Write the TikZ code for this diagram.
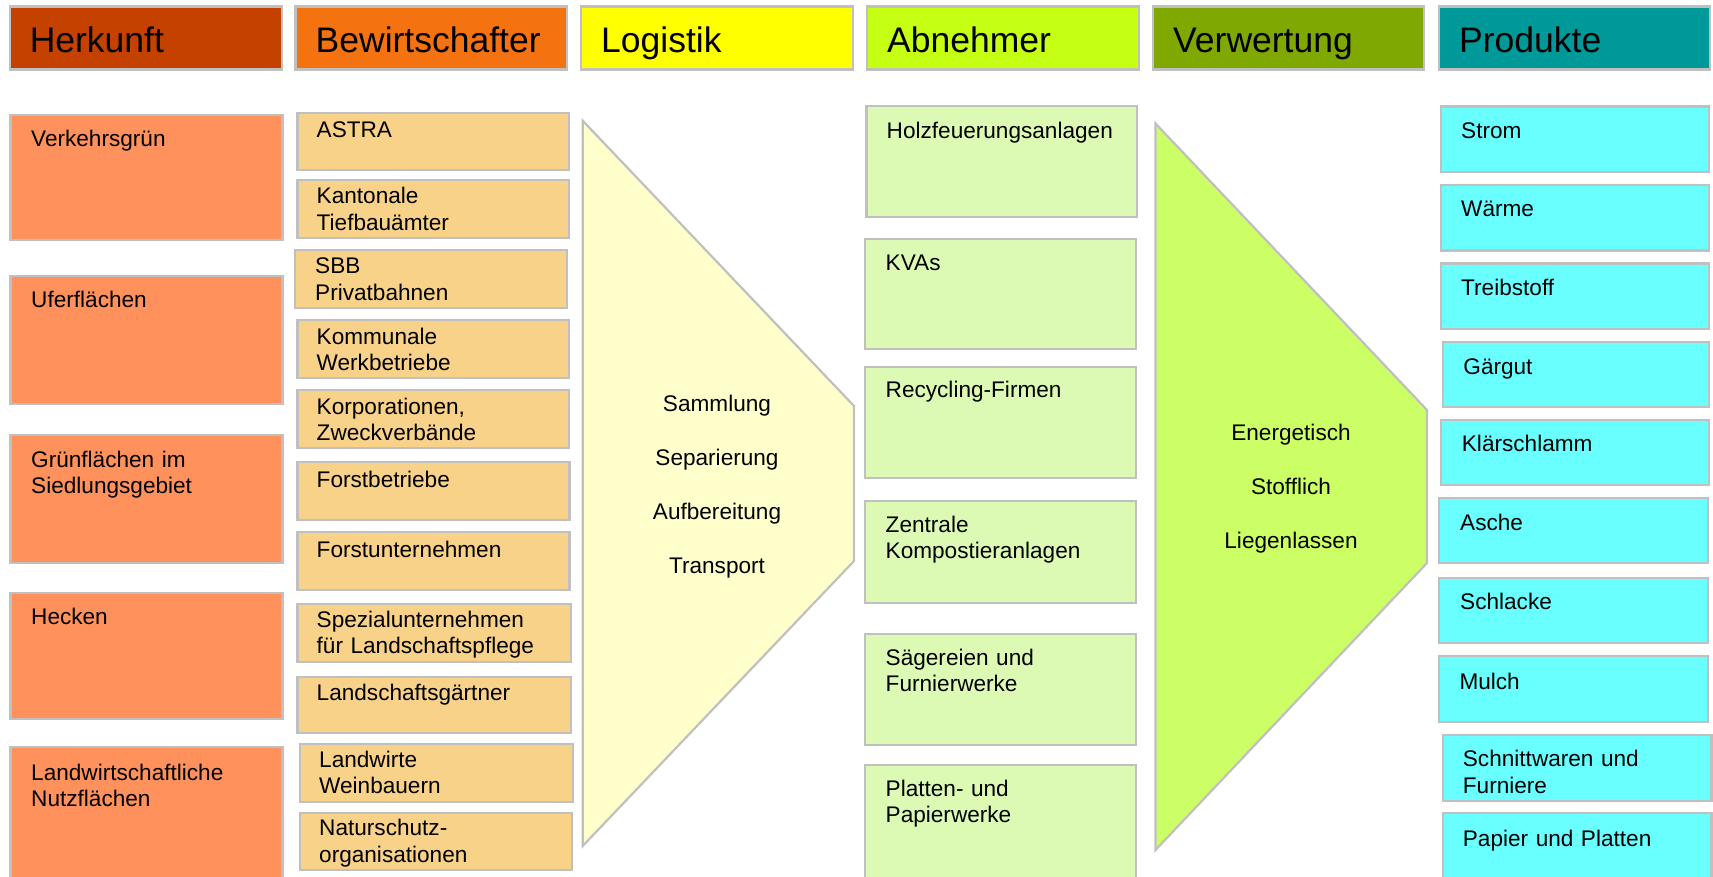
\documentclass[tikz,border=0pt]{standalone}
\usepackage{fontspec}
\setmainfont{Liberation Sans}
\definecolor{bord}{RGB}{192,192,192}
\definecolor{hdrA}{RGB}{197,65,0}
\definecolor{hdrB}{RGB}{245,114,16}
\definecolor{hdrC}{RGB}{255,255,0}
\definecolor{hdrD}{RGB}{197,255,20}
\definecolor{hdrE}{RGB}{127,168,0}
\definecolor{hdrF}{RGB}{0,153,153}
\definecolor{fillA}{RGB}{255,146,92}
\definecolor{fillB}{RGB}{249,210,138}
\definecolor{fillC}{RGB}{255,255,204}
\definecolor{fillD}{RGB}{221,250,180}
\definecolor{fillE}{RGB}{204,255,102}
\definecolor{fillF}{RGB}{106,255,255}
\newcommand\mkbox[6]{\node[bx,fill=#6,minimum width={#4-#2},minimum height={#5-#3}] (#1) at (#2,#3) {};}
\newcommand\mktxt[5]{\node[#2] (#1t) at ([xshift=#3pt,yshift=-#4pt]#1.north west) {#5};}
\begin{document}
\begin{tikzpicture}[x=1pt,y=-1pt,
  bx/.style={draw=bord,line width=2.2pt,anchor=north west,inner sep=0pt,outer sep=0pt,shape=rectangle},
  htxt/.style={anchor=base west,inner sep=0pt,font=\fontsize{35.5}{40}\selectfont},
  btxt/.style={anchor=base west,inner sep=0pt,align=left,text width=262pt,font=\fontsize{22.6}{26.5}\selectfont},
  ctxt/.style={anchor=base,inner sep=0pt,align=center,text width=250pt,font=\fontsize{22.6}{54}\selectfont},
  trap/.style={draw=bord,line width=2.2pt,line join=miter}]
\useasboundingbox (0,0) rectangle (1713,877);
\fill[white] (0,0) rectangle (1713,877);
% headers
\mkbox{h1}{9.6}{6.5}{282}{69.5}{hdrA}
\mkbox{h2}{295.5}{6.5}{567}{69.5}{hdrB}
\mkbox{h3}{581}{6.5}{853}{69.5}{hdrC}
\mkbox{h4}{867}{6.5}{1139}{69.5}{hdrD}
\mkbox{h5}{1153}{6.5}{1424}{69.5}{hdrE}
\mkbox{h6}{1439}{6.5}{1710}{69.5}{hdrF}
\mktxt{h1}{htxt}{20}{46}{Herkunft}
\mktxt{h2}{htxt}{20}{46}{Bewirtschafter}
\mktxt{h3}{htxt}{20}{46}{Logistik}
\mktxt{h4}{htxt}{20}{46}{Abnehmer}
\mktxt{h5}{htxt}{20}{46}{Verwertung}
\mktxt{h6}{htxt}{20}{46}{Produkte}
% Herkunft
\mkbox{a1}{10.5}{115}{282.5}{240}{fillA}
\mkbox{a2}{10.5}{276}{282.5}{404}{fillA}
\mkbox{a3}{10.5}{435}{282.5}{563}{fillA}
\mkbox{a4}{10.5}{593}{282.5}{719}{fillA}
\mkbox{a5}{10.5}{747}{282.5}{884}{fillA}
\mktxt{a1}{btxt}{20.5}{32}{Verkehrsgrün}
\mktxt{a2}{btxt}{20.5}{32}{Uferflächen}
\mktxt{a3}{btxt}{20.5}{32}{Grünflächen im\\Siedlungsgebiet}
\mktxt{a4}{btxt}{20.5}{31}{Hecken}
\mktxt{a5}{btxt}{20.5}{33}{Landwirtschaftliche\\Nutzflächen}
% Bewirtschafter
\mkbox{b1}{297.5}{112.7}{569}{170}{fillB}
\mkbox{b2}{297.5}{180}{569}{237.7}{fillB}
\mkbox{b3}{295}{250}{567.3}{307.7}{fillB}
\mkbox{b4}{297.5}{320}{569.3}{377.7}{fillB}
\mkbox{b5}{297.5}{390}{569.3}{447.7}{fillB}
\mkbox{b6}{297.5}{462}{569.5}{519.7}{fillB}
\mkbox{b7}{297.5}{532}{569.5}{589.7}{fillB}
\mkbox{b8}{297.5}{604}{570.7}{661.7}{fillB}
\mkbox{b9}{297.5}{676.7}{571}{733.3}{fillB}
\mkbox{b10}{300}{744}{573.3}{801.7}{fillB}
\mkbox{b11}{300}{812.7}{572.3}{870}{fillB}
\mktxt{b1}{btxt}{19}{25}{ASTRA}
\mktxt{b2}{btxt}{19}{24}{Kantonale\\Tiefbauämter}
\mktxt{b3}{btxt}{20}{24}{SBB\\Privatbahnen}
\mktxt{b4}{btxt}{19}{24}{Kommunale\\Werkbetriebe}
\mktxt{b5}{btxt}{19}{24}{Korporationen,\\Zweckverbände}
\mktxt{b6}{btxt}{19}{25}{Forstbetriebe}
\mktxt{b7}{btxt}{19}{25}{Forstunternehmen}
\mktxt{b8}{btxt}{19}{23}{Spezialunternehmen\\für Landschaftspflege}
\mktxt{b9}{btxt}{19}{24}{Landschaftsgärtner}
\mktxt{b10}{btxt}{19}{23}{Landwirte\\Weinbauern}
\mktxt{b11}{btxt}{19}{23}{Naturschutz-\\organisationen}
% Logistik
\coordinate (l1) at (582.7,120.7);
\coordinate (l2) at (854,406);
\coordinate (l3) at (854,561);
\coordinate (l4) at (582.7,846);
\draw[trap,fill=fillC] (l1) -- (l2) -- (l3) -- (l4) -- cycle;
\node[ctxt] (lt) at (717,411) {Sammlung\\Separierung\\Aufbereitung\\Transport};
% Abnehmer
\mkbox{c1}{866.5}{105.7}{1137.3}{216.7}{fillD}
\mkbox{c2}{865}{239}{1136}{349.3}{fillD}
\mkbox{c3}{865}{367}{1136}{478}{fillD}
\mkbox{c4}{865}{501}{1136}{603}{fillD}
\mkbox{c5}{865}{634}{1136}{745}{fillD}
\mkbox{c6}{865}{765}{1136}{884}{fillD}
\mktxt{c1}{btxt}{20}{32.6}{Holzfeuerungsanlagen}
\mktxt{c2}{btxt}{20.5}{32}{KVAs}
\mktxt{c3}{btxt}{20.5}{30}{Recycling-Firmen}
\mktxt{c4}{btxt}{20.5}{31}{Zentrale\\Kompostieranlagen}
\mktxt{c5}{btxt}{20.5}{31}{Sägereien und\\Furnierwerke}
\mktxt{c6}{btxt}{20.5}{31}{Platten- und\\Papierwerke}
% Verwertung
\coordinate (v1) at (1155.5,123.5);
\coordinate (v2) at (1427,410);
\coordinate (v3) at (1427,563);
\coordinate (v4) at (1155.5,850);
\draw[trap,fill=fillE] (v1) -- (v2) -- (v3) -- (v4) -- cycle;
\node[ctxt] (vt) at (1291,440) {Energetisch\\Stofflich\\Liegenlassen};
% Produkte
\mkbox{p1}{1441}{106.5}{1709}{172}{fillF}
\mkbox{p2}{1441}{185}{1709}{250.5}{fillF}
\mkbox{p3}{1441}{263.5}{1709}{329}{fillF}
\mkbox{p4}{1442.7}{341.7}{1709}{407.3}{fillF}
\mkbox{p5}{1440.7}{420}{1709}{485}{fillF}
\mkbox{p6}{1439.3}{498.3}{1708.3}{563.3}{fillF}
\mkbox{p7}{1439.3}{577.7}{1708.3}{643.3}{fillF}
\mkbox{p8}{1439.3}{656}{1708}{721.7}{fillF}
\mkbox{p9}{1442.7}{735}{1711.5}{800.7}{fillF}
\mkbox{p10}{1442.7}{813.3}{1711.5}{884}{fillF}
\mktxt{p1}{btxt}{20}{32}{Strom}
\mktxt{p2}{btxt}{20}{32}{Wärme}
\mktxt{p3}{btxt}{20}{32}{Treibstoff}
\mktxt{p4}{btxt}{20.5}{32.3}{Gärgut}
\mktxt{p5}{btxt}{21}{31.7}{Klärschlamm}
\mktxt{p6}{btxt}{20.7}{31.7}{Asche}
\mktxt{p7}{btxt}{20.7}{31.6}{Schlacke}
\mktxt{p8}{btxt}{20}{33.3}{Mulch}
\mktxt{p9}{btxt}{20}{31.7}{Schnittwaren und\\Furniere}
\mktxt{p10}{btxt}{20}{33.4}{Papier und Platten}
\end{tikzpicture}
\end{document}
